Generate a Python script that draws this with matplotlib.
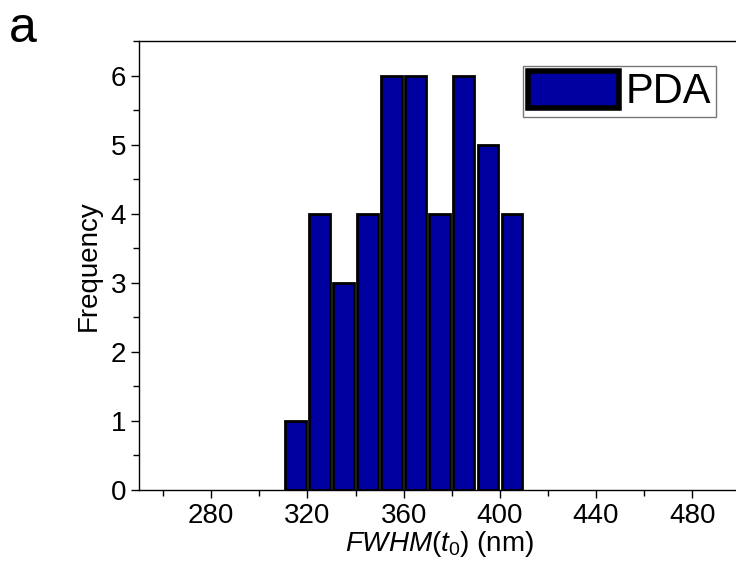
import numpy as np
import matplotlib.pyplot as plt
from matplotlib.ticker import MultipleLocator

plt.rcParams['font.family'] = ['Liberation Sans', 'DejaVu Sans']
plt.rcParams['mathtext.fontset'] = 'custom'
plt.rcParams['mathtext.it'] = 'Liberation Sans:italic'
plt.rcParams['mathtext.rm'] = 'Liberation Sans'

# histogram of FWHM(t0), bins of 10 nm
bin_centers = [315, 325, 335, 345, 355, 365, 375, 385, 395, 405]
counts = [1, 4, 3, 4, 6, 6, 4, 6, 5, 4]

fig = plt.figure(figsize=(7.36, 5.65), dpi=100)
ax = fig.add_axes([0.189, 0.133, 0.817, 0.794])

ax.bar(bin_centers, counts, width=8.6, color='#0000A0', edgecolor='black',
       linewidth=2, label='PDA')

ax.set_xlim(250, 500)
ax.set_ylim(0, 6.5)
ax.xaxis.set_major_locator(MultipleLocator(40))
ax.xaxis.set_minor_locator(MultipleLocator(20))
ax.yaxis.set_major_locator(MultipleLocator(1))
ax.yaxis.set_minor_locator(MultipleLocator(0.5))
ax.set_xticks([280, 320, 360, 400, 440, 480])
ax.tick_params(which='both', direction='out', labelsize=20, width=1)
ax.tick_params(which='major', length=6)
ax.tick_params(which='minor', length=4)
for s in ax.spines.values():
    s.set_linewidth(1)

ax.set_xlabel(r'$\mathit{FWHM(t_0)}$ (nm)', fontsize=20, labelpad=0)
ax.set_ylabel('Frequency', fontsize=20, labelpad=6)

leg = ax.legend(loc='upper right', bbox_to_anchor=(0.973, 0.884),
                bbox_transform=fig.transFigure, fontsize=30, fancybox=False,
                edgecolor='#555555', handlelength=2.2, handleheight=1.0,
                borderpad=0.12, handletextpad=0.15, borderaxespad=0)
leg.get_frame().set_linewidth(1)
for p in leg.get_patches():
    p.set_linewidth(4)

fig.text(0.012, 0.99, 'a', fontsize=36, va='top', ha='left')

plt.savefig('out.png', dpi=100)
plt.close()
